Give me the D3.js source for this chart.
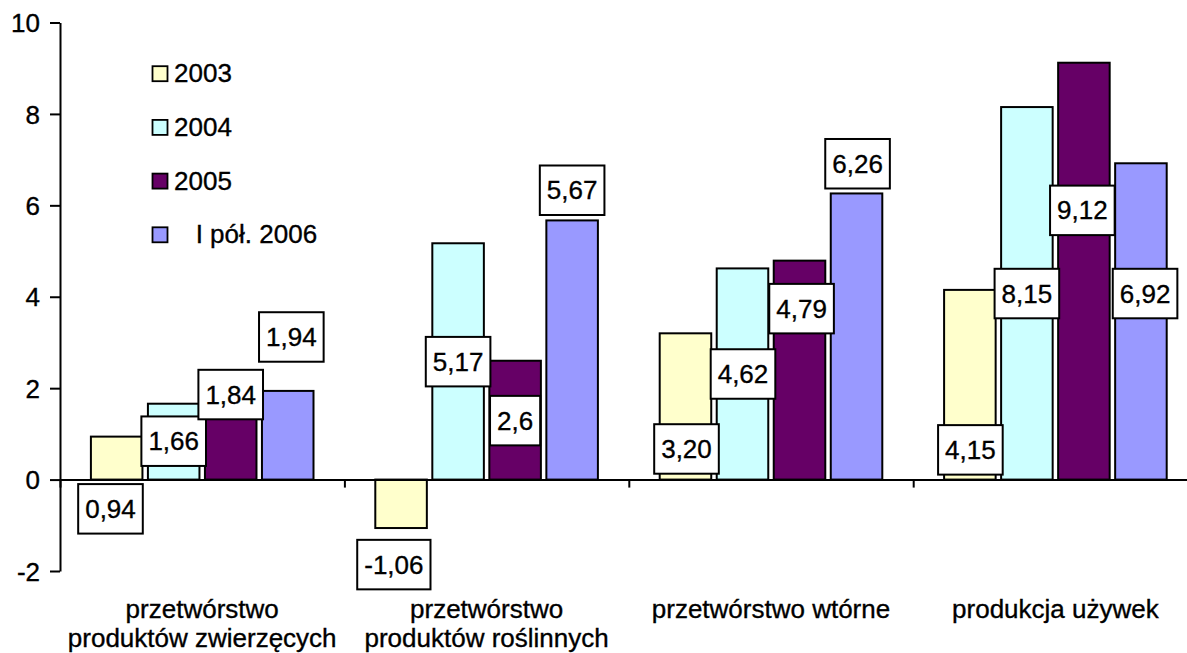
<!DOCTYPE html>
<html>
<head>
<meta charset="utf-8">
<script src="https://cdn.jsdelivr.net/npm/d3@7/dist/d3.min.js"></script>
<style>
  html, body { margin: 0; padding: 0; background: #fff; }
  svg { display: block; }
  text { font-family: "Liberation Sans", Arial, sans-serif; fill: #000; stroke: #000; stroke-width: 0.35px; }
</style>
</head>
<body>
<svg id="chart" width="1187" height="653"></svg>
<script>
// ---------- data ----------
const categories = [
  ["przetwórstwo", "produktów zwierzęcych"],
  ["przetwórstwo", "produktów roślinnych"],
  ["przetwórstwo wtórne"],
  ["produkcja używek"]
];
const seriesNames = ["2003", "2004", "2005", "I pół. 2006"];
const seriesColors = ["#FFFFCC", "#CCFFFF", "#660066", "#9999FF"];
const values2003 = [0.94, -1.06, 3.20, 4.15];
const values2004 = [1.66, 5.17, 4.62, 8.15];
const values2005 = [1.84, 2.6, 4.79, 9.12];
const values2006 = [1.94, 5.67, 6.26, 6.92];
const labels2003 = ["0,94", "-1,06", "3,20", "4,15"];
const labels2004 = ["1,66", "5,17", "4,62", "8,15"];
const labels2005 = ["1,84", "2,6", "4,79", "9,12"];
const labels2006 = ["1,94", "5,67", "6,26", "6,92"];
// label box centres, in axis value units (manual placement in the original)
const labelAt2003 = [-0.64, -1.86, 0.67, 0.65];
const labelAt2004 = [0.84, 2.58, 2.31, 4.07];
const labelAt2005 = [1.86, 1.29, 3.74, 5.89];
const labelAt2006 = [3.12, 6.33, 6.91, 4.07];
// horizontal nudge of label boxes, as fraction of bar width
const labelShift2003 = [-0.12, -0.14, 0.02, 0.01];
const labelShift2004 = [0, 0, 0.01, 0];
const labelShift2005 = [0, 0, 0.04, -0.03];
const labelShift2006 = [0.07, 0, 0.02, 0.08];
const yTicks = [-2, 0, 2, 4, 6, 8, 10];

const allValues = [values2003, values2004, values2005, values2006];
const allLabels = [labels2003, labels2004, labels2005, labels2006];
const allLabelAt = [labelAt2003, labelAt2004, labelAt2005, labelAt2006];
const allShift = [labelShift2003, labelShift2004, labelShift2005, labelShift2006];

// ---------- layout ----------
const FONT = 26;
const svg = d3.select("#chart");

const y = d3.scaleLinear().domain([-2, 10]).range([571, 22.5]);
const catStep = 284.4;
const x0 = d3.scaleBand().domain(d3.range(categories.length))
  .range([60, 60 + catStep * categories.length]).paddingInner(0).paddingOuter(0);
const x1 = d3.scaleBand().domain(d3.range(seriesNames.length))
  .range([30.9, catStep - 30.9]).paddingInner(0.096).paddingOuter(0);

// bars
const barData = [];
allValues.forEach((vals, s) => vals.forEach((v, c) => barData.push({ s, c, v })));

svg.append("g").selectAll("rect").data(barData).join("rect")
  .attr("x", d => x0(d.c) + x1(d.s))
  .attr("width", x1.bandwidth())
  .attr("y", d => y(Math.max(0, d.v)))
  .attr("height", d => Math.abs(y(d.v) - y(0)))
  .attr("fill", d => seriesColors[d.s])
  .attr("stroke", "#000")
  .attr("stroke-width", 2);

// x axis (category boundaries)
const xb = d3.scaleLinear().domain([0, categories.length]).range([60, 60 + catStep * categories.length]);
const xAxis = svg.append("g").attr("transform", `translate(0,${y(0)})`)
  .call(d3.axisBottom(xb).tickValues(d3.range(categories.length + 1)).tickFormat("").tickSize(8).tickSizeOuter(0));
xAxis.select(".domain").attr("stroke", "#000").attr("stroke-width", 2);
xAxis.selectAll(".tick line").attr("stroke", "#000").attr("stroke-width", 2);

// y axis
const yAxis = svg.append("g").attr("transform", "translate(60,0)")
  .call(d3.axisLeft(y).tickValues(yTicks).tickSize(10).tickSizeOuter(0).tickPadding(10)
    .tickFormat(d => d3.format("d")(d).replace("−", "-")));
yAxis.select(".domain").attr("stroke", "#000").attr("stroke-width", 2);
yAxis.selectAll(".tick line").attr("stroke", "#000").attr("stroke-width", 2);
yAxis.selectAll(".tick text").attr("font-size", FONT).attr("font-family", "Liberation Sans, Arial, sans-serif")
  .attr("fill", "#000").attr("dy", "0.35em");

// category labels
const catG = svg.append("g");
categories.forEach((lines, c) => {
  lines.forEach((ln, i) => {
    catG.append("text")
      .attr("x", x0(c) + x0.bandwidth() / 2)
      .attr("y", 618 + i * 29)
      .attr("text-anchor", "middle")
      .attr("font-size", FONT)
      .text(ln);
  });
});

// data labels with boxes
const lblG = svg.append("g");
barData.forEach(d => {
  const cx = x0(d.c) + x1(d.s) + x1.bandwidth() / 2 + allShift[d.s][d.c] * x1.bandwidth();
  const cy = y(allLabelAt[d.s][d.c]);
  const g = lblG.append("g");
  const rect = g.append("rect");
  const t = g.append("text")
    .attr("x", cx).attr("y", cy).attr("dy", "0.35em")
    .attr("text-anchor", "middle").attr("font-size", FONT)
    .text(allLabels[d.s][d.c]);
  const w = t.node().getComputedTextLength() + 14;
  const h = 49.5;
  rect.attr("x", cx - w / 2).attr("y", cy - h / 2).attr("width", w).attr("height", h)
    .attr("fill", "#fff").attr("stroke", "#000").attr("stroke-width", 2);
});

// legend
const legG = svg.append("g");
seriesNames.forEach((name, i) => {
  const cy = 73.7 + i * 53.7;
  legG.append("rect")
    .attr("x", 152.5).attr("y", cy - 7.5).attr("width", 15).attr("height", 15)
    .attr("fill", seriesColors[i]).attr("stroke", "#000").attr("stroke-width", 1.8);
  legG.append("text")
    .attr("x", 174).attr("y", cy + 8.5)
    .attr("font-size", FONT)
    .style("white-space", "pre")
    .text(i === 3 ? "   " + name : name);
});
</script>
</body>
</html>
